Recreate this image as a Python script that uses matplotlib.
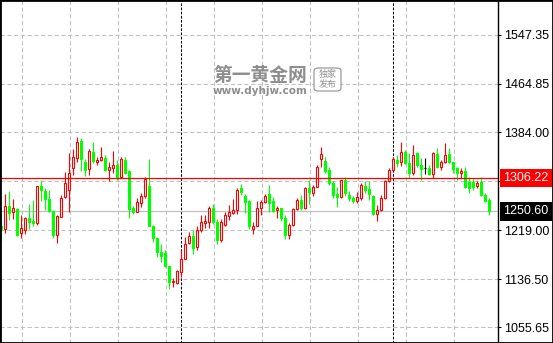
import matplotlib
matplotlib.use("Agg")
import matplotlib.pyplot as plt
import matplotlib.transforms as mtransforms
from matplotlib.patches import Rectangle, FancyBboxPatch
import numpy as np

# OHLC, oldest candle first
opens = [
    1225.8, 1221.8, 1259.4, 1249.9, 1255.5, 1214.5, 1220.1, 1239.2, 1234.2, 1232.0,
    1293.1, 1284.7, 1271.2, 1251.6, 1211.2, 1241.5, 1275.2, 1287.5, 1324.0, 1340.8,
    1368.9, 1333.5, 1322.3, 1350.4, 1333.5, 1337.5, 1340.3, 1320.6, 1324.0, 1329.0,
    1308.8, 1336.3, 1318.4, 1256.1, 1250.5, 1265.6, 1276.3, 1293.1, 1226.9, 1206.7,
    1183.1, 1181.4, 1158.4, 1132.0, 1130.9, 1148.9, 1171.3, 1197.7, 1208.9, 1191.0,
    1219.0, 1231.4, 1233.0, 1257.2, 1233.0, 1203.3, 1228.6, 1243.2, 1248.2, 1253.8,
    1289.2, 1276.3, 1267.9, 1221.8, 1226.9, 1257.2, 1266.7, 1279.6, 1267.9, 1253.8,
    1257.2, 1240.4, 1211.7, 1227.4, 1255.5, 1269.5, 1257.2, 1289.2, 1281.9, 1292.0,
    1338.0, 1335.2, 1320.1, 1297.6, 1280.2, 1275.2, 1303.2, 1278.0, 1273.5, 1267.9,
    1273.5, 1293.1, 1288.1, 1276.3, 1246.0, 1252.7, 1273.5, 1302.1, 1320.1, 1336.9,
    1334.1, 1349.8, 1331.3, 1314.4, 1348.1, 1328.5, 1322.9, 1322.9, 1313.3, 1347.0,
    1324.6, 1334.1, 1346.4, 1334.1, 1322.9, 1314.4, 1318.4, 1300.4, 1300.4, 1293.1,
    1300.4, 1278.0, 1269.5,
]
highs = [
    1252.7, 1279.6, 1284.7, 1271.2, 1257.2, 1244.3, 1241.5, 1262.8, 1269.5, 1294.2,
    1303.2, 1289.2, 1287.5, 1251.6, 1244.3, 1278.0, 1317.2, 1348.1, 1356.0, 1376.2,
    1374.5, 1339.1, 1356.0, 1367.2, 1342.5, 1359.3, 1345.9, 1333.5, 1352.6, 1336.9,
    1342.5, 1342.5, 1320.1, 1259.4, 1272.4, 1281.9, 1308.8, 1338.0, 1228.6, 1206.7,
    1196.6, 1185.3, 1158.4, 1138.2, 1152.8, 1185.3, 1207.8, 1216.2, 1219.0, 1225.8,
    1244.3, 1244.3, 1259.4, 1263.9, 1238.1, 1238.7, 1249.9, 1261.1, 1271.2, 1289.2,
    1296.5, 1279.6, 1269.5, 1233.0, 1267.9, 1269.5, 1279.6, 1295.9, 1275.2, 1259.4,
    1257.2, 1244.3, 1231.4, 1257.2, 1272.4, 1278.5, 1292.0, 1303.2, 1294.8, 1328.5,
    1359.3, 1342.5, 1325.7, 1301.5, 1292.0, 1304.3, 1307.7, 1284.7, 1276.3, 1283.6,
    1297.6, 1301.5, 1301.5, 1278.0, 1261.1, 1278.0, 1304.3, 1322.9, 1341.4, 1345.3,
    1366.6, 1353.7, 1348.1, 1362.1, 1350.9, 1339.7, 1339.7, 1328.5, 1350.9, 1356.5,
    1336.9, 1364.9, 1356.5, 1334.1, 1325.7, 1322.9, 1324.6, 1308.8, 1306.0, 1302.1,
    1308.8, 1280.8, 1272.4,
]
lows = [
    1201.1, 1214.5, 1235.9, 1237.5, 1208.9, 1206.7, 1213.4, 1221.8, 1225.8, 1228.0,
    1267.9, 1253.8, 1249.9, 1206.7, 1197.7, 1241.5, 1273.5, 1249.9, 1311.6, 1334.1,
    1318.4, 1310.5, 1311.6, 1332.4, 1329.0, 1334.7, 1318.4, 1302.1, 1314.4, 1304.3,
    1307.1, 1312.8, 1239.2, 1246.0, 1249.3, 1258.3, 1273.5, 1225.8, 1199.4, 1174.1,
    1165.7, 1157.3, 1120.8, 1123.6, 1129.2, 1140.4, 1170.2, 1195.4, 1179.7, 1185.3,
    1216.2, 1223.5, 1223.5, 1230.3, 1195.4, 1199.4, 1225.8, 1235.9, 1246.0, 1246.0,
    1278.0, 1248.8, 1221.8, 1213.4, 1225.8, 1245.4, 1265.0, 1249.9, 1249.9, 1240.4,
    1234.7, 1205.0, 1204.4, 1225.8, 1252.7, 1253.8, 1255.5, 1263.9, 1276.3, 1290.9,
    1325.7, 1315.6, 1294.8, 1274.0, 1258.3, 1274.0, 1276.3, 1268.4, 1265.6, 1265.0,
    1269.5, 1281.9, 1269.5, 1244.3, 1234.2, 1251.6, 1271.8, 1300.4, 1320.1, 1324.6,
    1326.8, 1329.6, 1306.0, 1311.6, 1325.7, 1303.2, 1312.8, 1311.6, 1307.1, 1322.9,
    1320.1, 1331.3, 1332.4, 1315.6, 1303.2, 1306.0, 1290.3, 1281.9, 1286.4, 1289.2,
    1276.9, 1266.7, 1244.3,
]
closes = [
    1221.3, 1259.4, 1248.2, 1256.1, 1210.6, 1222.4, 1239.2, 1233.0, 1231.4, 1293.1,
    1286.4, 1271.2, 1251.6, 1210.6, 1243.2, 1274.0, 1297.6, 1315.0, 1341.4, 1366.6,
    1338.0, 1320.1, 1351.5, 1335.8, 1336.9, 1341.9, 1320.1, 1325.1, 1327.9, 1308.8,
    1338.0, 1314.4, 1254.4, 1250.5, 1266.2, 1276.3, 1305.5, 1225.8, 1206.7, 1183.1,
    1175.2, 1158.4, 1132.0, 1133.7, 1150.5, 1171.3, 1196.6, 1208.9, 1189.3, 1220.1,
    1233.0, 1234.7, 1257.2, 1233.0, 1203.3, 1233.0, 1244.3, 1249.3, 1253.8, 1286.4,
    1283.6, 1266.7, 1225.8, 1226.9, 1256.6, 1266.2, 1277.4, 1265.0, 1251.6, 1256.1,
    1240.4, 1211.7, 1228.6, 1255.0, 1269.5, 1257.2, 1289.7, 1283.6, 1290.9, 1324.6,
    1347.0, 1318.4, 1297.6, 1278.0, 1274.6, 1303.2, 1280.8, 1273.5, 1267.9, 1275.2,
    1294.8, 1286.4, 1279.6, 1247.1, 1253.8, 1274.0, 1301.5, 1320.1, 1338.0, 1331.3,
    1349.8, 1331.3, 1314.4, 1345.3, 1328.5, 1321.2, 1322.9, 1313.3, 1348.1, 1324.6,
    1334.1, 1345.3, 1334.1, 1321.7, 1314.4, 1318.4, 1292.0, 1290.3, 1290.9, 1297.6,
    1278.0, 1268.4, 1250.6,
]

price_ticks = [1547.35, 1464.85, 1384.00, 1301.50, 1219.00, 1136.50, 1055.65]
price_tick_labels = ["1547.35", "1464.85", "1384.00", "", "1219.00", "1136.50", "1055.65"]
period_breaks = [45, 98]          # candle index of the dotted session separators
ref_level = 1306.22               # red horizontal line
last_price = 1250.60              # grey bid line
wm_title = "第一黄金网"
wm_url = "www.dyhjw.com"
wm_badge = "独家\n发布"

UP = "#ff0000"
DOWN = "#00ff00"
GRID = "#c0c0c0"
WM = "#8e8e8e"
W, H = 553, 343


def px(xp, yp):
    return xp / W, 1 - yp / H


fig = plt.figure(figsize=(W / 100, H / 100), dpi=100)
fig.patch.set_facecolor("white")
ax = fig.add_axes([0, 0, 498 / W, 1])

o = np.array(opens)
h = np.array(highs)
l = np.array(lows)
c = np.array(closes)
x = np.arange(len(o))
up = c > o
down = c < o
flat = c == o

# grid
for gx in np.arange(5.15, len(o), 12):
    ax.axvline(gx, color=GRID, lw=0.75, ls=(0, (4, 2.5)), zorder=1)
for gy in price_ticks:
    ax.axhline(gy, color=GRID, lw=0.75, ls=(0, (4, 2.5)), zorder=1)
for b in period_breaks:
    ax.axvline(b, color="black", lw=0.75, ls=(0, (2.5, 1.5)), zorder=1.5)

ax.axhline(last_price, color=GRID, lw=0.9, zorder=2)

# candles: hollow red = up, filled green = down
wick_colors = np.where(up, UP, np.where(down, DOWN, "black"))
ax.vlines(x, l, h, colors=wick_colors, lw=0.8, zorder=3)
ax.bar(x[up], (c - o)[up], bottom=o[up], width=0.5, facecolor="white",
       edgecolor=UP, lw=0.8, zorder=4)
ax.bar(x[down], (o - c)[down], bottom=c[down], width=0.5, facecolor=DOWN,
       edgecolor=DOWN, lw=0.8, zorder=4)
ax.hlines(o[flat], x[flat] - 0.35, x[flat] + 0.35, color="black", lw=0.8, zorder=4)

ax.axhline(ref_level, color=UP, lw=0.9, zorder=5)

ax.set_xlim(-0.25, 124.25)
ax.set_ylim(1029.6, 1605.9)
ax.set_xticks([])
ax.yaxis.tick_right()
ax.set_yticks(price_ticks)
ax.set_yticklabels(price_tick_labels, fontfamily="Liberation Sans")
ax.tick_params(axis="y", length=2.5, width=0.75, pad=2.2, labelsize=9, colors="black")
for side in ["top", "left", "bottom"]:
    ax.spines[side].set_visible(False)
ax.spines["right"].set_linewidth(1.0)

# price tags on the axis
trans = mtransforms.blended_transform_factory(ax.transAxes, ax.transData)
for val, bg in [(ref_level, UP), (last_price, "black")]:
    ax.text(1.0105, val, f"{val:.2f}", transform=trans, ha="left", va="center",
            color="white", fontsize=9, fontfamily="Liberation Sans", clip_on=False,
            zorder=10,
            bbox=dict(boxstyle="square,pad=0.25", fc=bg, ec="none"))

# watermark
fig.text(*px(213, 81), wm_title, fontsize=13.5, fontweight="bold",
         fontfamily=["Noto Sans CJK SC", "DejaVu Sans"], color=WM,
         va="baseline", ha="left")
fig.text(*px(213, 94), wm_url, fontsize=7.5, fontweight="bold",
         fontfamily="DejaVu Sans", color=WM, va="baseline", ha="left")
x0, y0 = px(314, 91)
x1, y1 = px(341, 68)
fig.add_artist(FancyBboxPatch((x0, y0), x1 - x0, y1 - y0, transform=fig.transFigure,
                              boxstyle="round,pad=0,rounding_size=0.008",
                              fc="white", ec=WM, lw=0.8))
fig.text(*px(327.5, 79.5), wm_badge, fontsize=6.5, fontfamily="Noto Sans CJK SC",
         color=WM, ha="center", va="center", linespacing=1.15)

# outer frame
fig.add_artist(Rectangle((0, 0), 1, 1, transform=fig.transFigure, fill=False,
                         ec="black", lw=2))

fig.savefig("out.png", dpi=100)
